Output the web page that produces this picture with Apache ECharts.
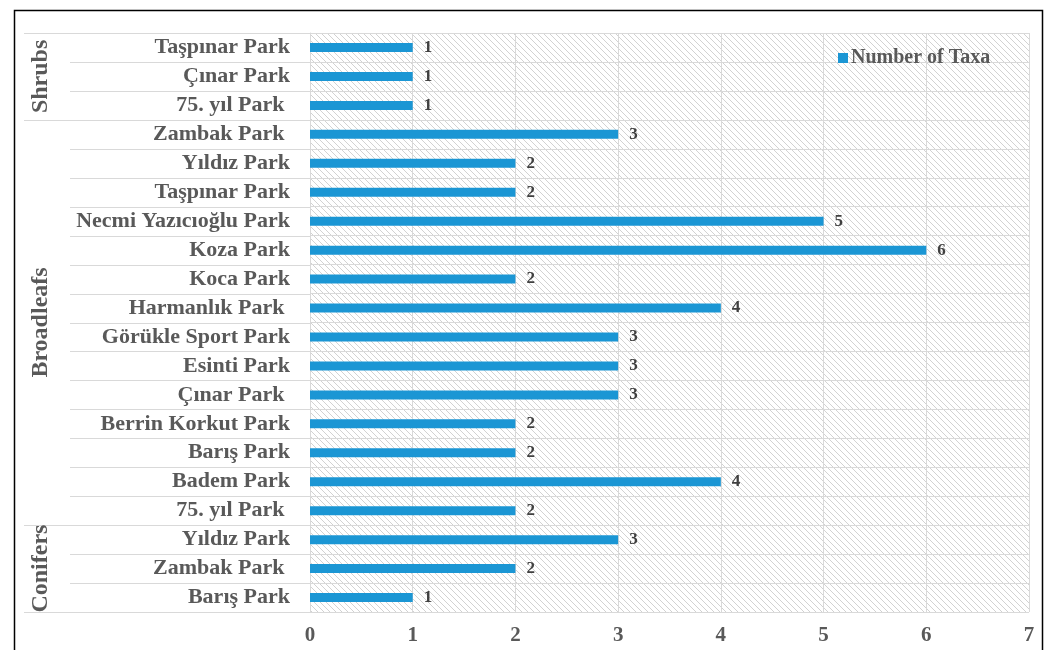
<!DOCTYPE html>
<html>
<head>
<meta charset="utf-8">
<script src="https://cdn.jsdelivr.net/npm/echarts@6/dist/echarts.min.js"></script>
<style>
  html, body { margin: 0; padding: 0; background: #ffffff; }
  #chart { width: 1049px; height: 650px; }
</style>
</head>
<body>
<div id="chart"></div>
<script>
// Park names, listed top to bottom (trailing spaces kept as typed in the source table)
const parks = [
  'Taşpınar Park', 'Çınar Park', '75. yıl Park ',
  'Zambak Park ', 'Yıldız Park', 'Taşpınar Park', 'Necmi Yazıcıoğlu Park', 'Koza Park',
  'Koca Park', 'Harmanlık Park ', 'Görükle Sport Park', 'Esinti Park', 'Çınar Park ',
  'Berrin Korkut Park', 'Barış Park', 'Badem Park', '75. yıl Park ',
  'Yıldız Park', 'Zambak Park ', 'Barış Park'
];
// Number of taxa per park
const taxa = [1, 1, 1, 3, 2, 2, 5, 6, 2, 4, 3, 3, 3, 2, 2, 4, 2, 3, 2, 1];
// Plant groups and how many consecutive rows each one spans
const groupNames = ['Shrubs', 'Broadleafs', 'Conifers'];
const groupSizes = [3, 14, 3];
const xTicks = [0, 1, 2, 3, 4, 5, 6, 7];
const seriesName = 'Number of Taxa';

const FONT = '"Liberation Serif", "Times New Roman", serif';
const GRAY = '#595959';
const DARK = '#404040';
const LINE = '#d9d9d9';

// diagonal hatch used as the plot-area fill
function hatch() {
  const s = 6;
  const c = document.createElement('canvas');
  c.width = s; c.height = s;
  const g = c.getContext('2d');
  g.fillStyle = '#ffffff';
  g.fillRect(0, 0, s, s);
  g.strokeStyle = '#d2d2d2';
  g.lineWidth = 1;
  g.beginPath();
  g.moveTo(-1, -1); g.lineTo(s + 1, s + 1);
  g.moveTo(-1, s - 1); g.lineTo(1, s + 1);
  g.moveTo(s - 1, -1); g.lineTo(s + 1, 1);
  g.stroke();
  return c;
}

const chart = echarts.init(document.getElementById('chart'), null, { renderer: 'canvas' });

const rowIds = parks.map((_, i) => String(i));

chart.setOption({
  animation: false,
  backgroundColor: '#ffffff',
  grid: {
    left: 310, right: 20, top: 33, bottom: 38,
    show: true,
    borderWidth: 0,
    backgroundColor: { image: hatch(), repeat: 'repeat' }
  },
  legend: {
    data: [seriesName],
    left: 833, top: 43,
    icon: 'rect', itemWidth: 10, itemHeight: 10,
    textStyle: { fontFamily: FONT, fontWeight: 'bold', fontSize: 20, color: GRAY, padding: [0, 0, 0, -2] }
  },
  xAxis: {
    type: 'value',
    min: xTicks[0], max: xTicks[xTicks.length - 1], interval: 1,
    axisLine: { show: false },
    axisTick: { show: false },
    splitLine: { show: true, lineStyle: { color: LINE, width: 1 } },
    axisLabel: {
      margin: 13,
      fontFamily: FONT, fontWeight: 'bold', fontSize: 21, color: GRAY
    }
  },
  yAxis: {
    type: 'category',
    inverse: true,
    data: rowIds,
    axisLine: { show: true, lineStyle: { color: LINE } },
    axisTick: { show: false },
    splitLine: { show: true, lineStyle: { color: LINE, width: 1 } },
    axisLabel: {
      margin: 20,
      formatter: v => parks[+v],
      fontFamily: FONT, fontWeight: 'bold', fontSize: 22, color: GRAY
    }
  },
  series: [{
    name: seriesName,
    type: 'bar',
    data: taxa,
    barWidth: 9,
    itemStyle: { color: '#1b96d4' },
    label: {
      show: true, position: 'right', distance: 11,
      fontFamily: FONT, fontWeight: 'bold', fontSize: 17, color: DARK
    }
  }]
});

// Row separators in the label column and the rotated group names
function drawGroups() {
  const py = i => chart.convertToPixel({ yAxisIndex: 0 }, String(i));
  const step = py(1) - py(0);
  const edge = k => py(0) + (k - 0.5) * step; // boundary above row k
  const plotLeft = chart.convertToPixel({ xAxisIndex: 0 }, 0);

  const starts = [];
  let acc = 0;
  groupSizes.forEach(n => { starts.push(acc); acc += n; });
  const groupEdges = new Set(starts.concat([acc]));

  const elements = [];
  for (let k = 0; k <= parks.length; k++) {
    const y = Math.round(edge(k)) + 0.5;
    const x0 = groupEdges.has(k) ? 24 : 70;
    elements.push({
      type: 'line', silent: true,
      shape: { x1: x0, y1: y, x2: plotLeft, y2: y },
      style: { stroke: LINE, lineWidth: 1 }
    });
  }
  groupNames.forEach((name, g) => {
    const mid = (edge(starts[g]) + edge(starts[g] + groupSizes[g])) / 2;
    elements.push({
      type: 'text', silent: true,
      x: 41, y: mid, rotation: Math.PI / 2,
      style: {
        text: name, fill: GRAY,
        font: 'bold 24px ' + FONT,
        align: 'center', verticalAlign: 'middle'
      }
    });
  });
  // frame around the whole figure
  elements.push({
    type: 'rect', silent: true,
    shape: { x: 14.5, y: 10.5, width: 1028, height: 700 },
    style: { fill: null, stroke: '#000000', lineWidth: 1.5 }
  });
  chart.setOption({ graphic: { elements } });
}
drawGroups();
</script>
</body>
</html>
